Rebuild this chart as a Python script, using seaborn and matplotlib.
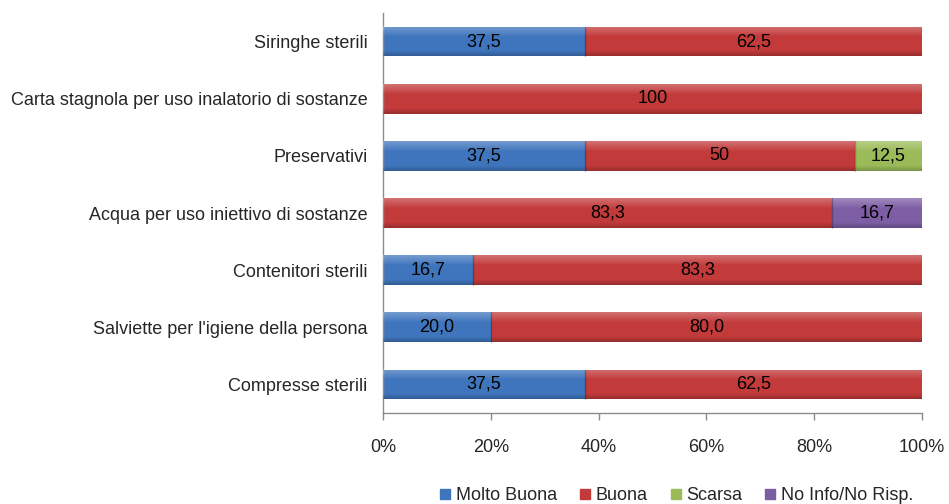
import matplotlib
matplotlib.use("Agg")
import numpy as np
import pandas as pd
import matplotlib.pyplot as plt
import seaborn as sns
from matplotlib.lines import Line2D
from matplotlib.ticker import FixedLocator

categories = [
    "Siringhe sterili",
    "Carta stagnola per uso inalatorio di sostanze",
    "Preservativi",
    "Acqua per uso iniettivo di sostanze",
    "Contenitori sterili",
    "Salviette per l'igiene della persona",
    "Compresse sterili",
]
series_names = ["Molto Buona", "Buona", "Scarsa", "No Info/No Risp."]
molto_buona = [37.5, 0, 37.5, 0, 16.7, 20.0, 37.5]
buona = [62.5, 100, 50, 83.3, 83.3, 80.0, 62.5]
scarsa = [0, 0, 12.5, 0, 0, 0, 0]
no_info = [0, 0, 0, 16.7, 0, 0, 0]
# rows whose labels use a fixed one-decimal format
one_decimal_rows = [False, False, False, False, False, True, False]
x_ticks = [0, 20, 40, 60, 80, 100]
x_tick_labels = ["0%", "20%", "40%", "60%", "80%", "100%"]

colors = ["#3F75BD", "#C23A3A", "#9BBB59", "#7D5EA5"]
axis_grey = "#8C8C8C"
BAR_W = 0.52

sns.set_theme(style="white")
plt.rcParams["font.family"] = ["Liberation Sans", "DejaVu Sans"]
FS = 13

df = pd.DataFrame({"categoria": categories, series_names[0]: molto_buona,
                   series_names[1]: buona, series_names[2]: scarsa,
                   series_names[3]: no_info})
cum = df[series_names].cumsum(axis=1)
cum["categoria"] = categories

fig = plt.figure(figsize=(9.49, 5.04), dpi=100)
ax = fig.add_axes([383 / 949, 1 - 413 / 504, 539 / 949, 400 / 504])

# stacked bars: draw cumulative totals from the outermost segment inward
for name, col in reversed(list(zip(series_names, colors))):
    sns.barplot(data=cum, x=name, y="categoria", orient="h", color=col,
                saturation=1, width=BAR_W, edgecolor="none", linewidth=0,
                ax=ax)

# soft bevel shading over each bar: light band on top, darker rim below
n = 64
t = np.linspace(0, 1, n)
shade = np.zeros((n, 1, 4))
top = np.clip(1 - t / 0.35, 0, 1)
bottom = np.clip((t - 0.82) / 0.18, 0, 1)
shade[:, 0, :3] = np.where(top[:, None] > 0, 1.0, 0.0)
shade[:, 0, 3] = 0.28 * top + 0.22 * bottom
totals = df[series_names].sum(axis=1)
for j, tot in enumerate(totals):
    ax.imshow(shade, extent=[0, tot, j + BAR_W / 2, j - BAR_W / 2],
              aspect="auto", interpolation="bilinear", zorder=3)
    # thin darker seams between adjacent segments
    start = 0.0
    for name in series_names[:-1]:
        start += df.loc[j, name]
        if 0 < start < tot and df.loc[j, name] > 0:
            ax.plot([start, start], [j - BAR_W / 2, j + BAR_W / 2],
                    color="black", alpha=0.25, lw=1, zorder=3.5)


def fmt(v, fixed):
    if fixed:
        s = f"{v:.1f}"
    else:
        s = f"{v:.1f}".rstrip("0").rstrip(".")
    return s.replace(".", ",")


for j, cat in enumerate(categories):
    start = 0.0
    for name in series_names:
        v = df.loc[j, name]
        if v > 0:
            ax.text(start + v / 2, j, fmt(v, one_decimal_rows[j]),
                    ha="center", va="center", fontsize=FS, color="black",
                    zorder=5)
        start += v

ax.set_xlim(0, 100)
ax.set_ylim(len(categories) - 0.5, -0.5)
ax.set_xlabel("")
ax.set_ylabel("")
ax.set_xticks(x_ticks)
ax.set_xticklabels(x_tick_labels, fontsize=FS)
ax.set_yticks(range(len(categories)))
ax.set_yticklabels(categories, fontsize=FS)
ax.yaxis.set_minor_locator(FixedLocator(np.arange(-0.5, len(categories), 1)))
ax.tick_params(axis="y", which="major", length=0, pad=11)
ax.tick_params(axis="y", which="minor", length=5, color=axis_grey, width=1,
               direction="out")
ax.tick_params(axis="x", which="major", length=5, color=axis_grey, width=1,
               direction="out", pad=14, bottom=True)
for s in ["top", "right"]:
    ax.spines[s].set_visible(False)
for s in ["left", "bottom"]:
    ax.spines[s].set_color(axis_grey)
    ax.spines[s].set_linewidth(1)
ax.grid(False)

handles = [Line2D([], [], marker="s", linestyle="none", markersize=7,
                  markerfacecolor=c, markeredgecolor=c) for c in colors]
fig.legend(handles, series_names, loc="center",
           bbox_to_anchor=(676 / 949, 1 - 496 / 504), ncol=4, frameon=False,
           fontsize=FS, handlelength=0.7, handletextpad=0.25,
           columnspacing=1.2, borderpad=0, borderaxespad=0)

fig.savefig("out.png", dpi=100)
